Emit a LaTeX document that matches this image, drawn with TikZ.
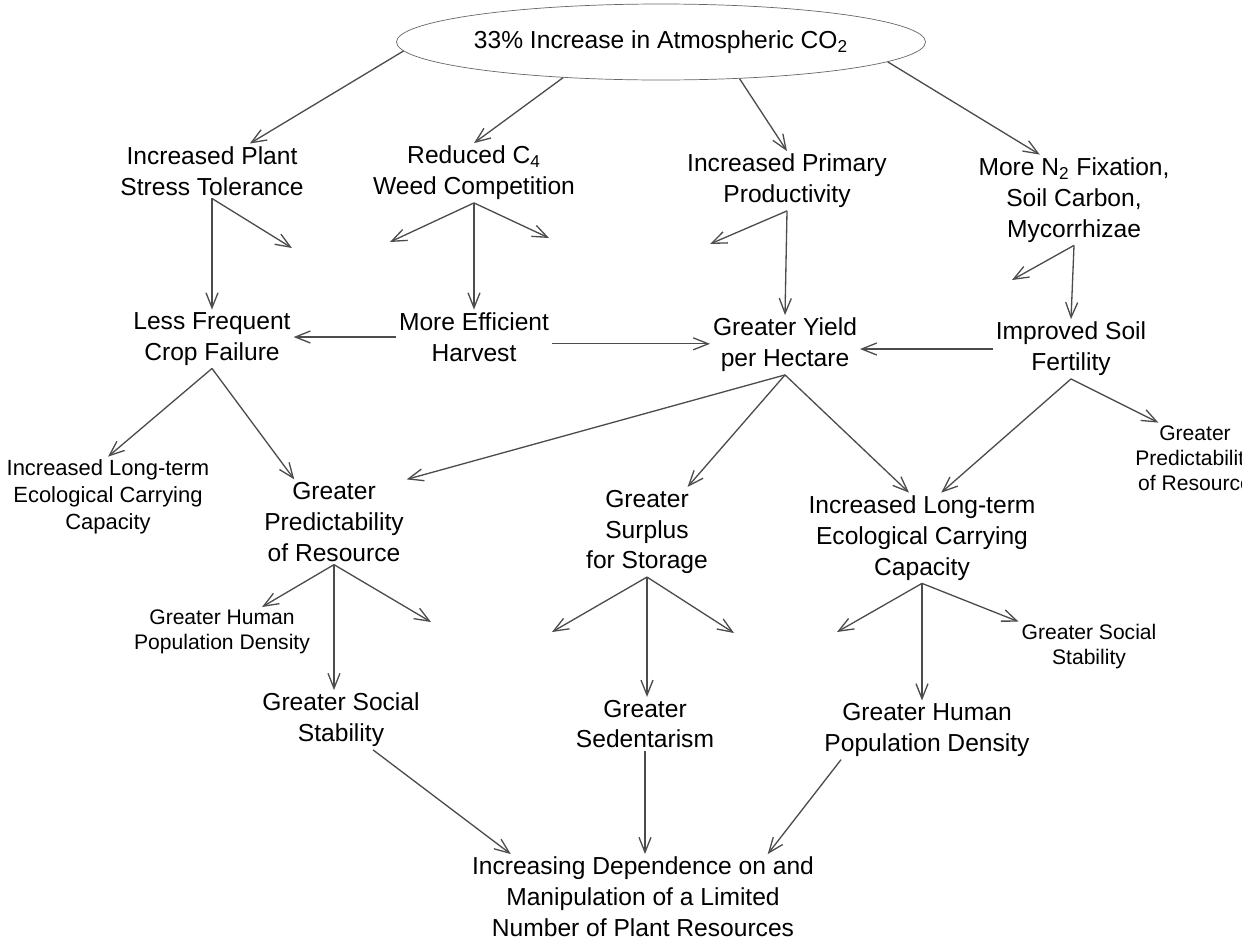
\documentclass[tikz,border=0pt]{standalone}
\usepackage{fontspec}
\setmainfont{Liberation Sans}
\usepackage{xcolor}
\usetikzlibrary{shapes.geometric,arrows.meta}

\begin{document}
\begin{tikzpicture}[x=0.02cm, y=-0.02cm,
    lbl/.style={align=center, inner sep=1.5pt, font=\fontsize{14}{17.6}\selectfont},
    lblsmall/.style={lbl, font=\fontsize{12}{14.2}\selectfont},
    link/.style={draw=black!70, line width=0.75pt, -{Straight Barb[length=3mm, width=2.4mm]}}
    ]
    \useasboundingbox (0,0) rectangle (1250,947);
    \clip (0,0) rectangle (1241,947);
    \node[lbl, ellipse, draw=black!60, minimum width=8.86cm, minimum height=1.52cm, inner sep=0pt] (co2) at (661,42) {33\% Increase in Atmospheric CO\textsubscript{2}};
    \node[lbl] (stress) at (212,171) {Increased Plant\\Stress Tolerance};
    \node[lbl] (weed) at (474,173) {Reduced C\textsubscript{4}\\Weed Competition};
    \node[lbl] (prim) at (787,181) {Increased Primary\\Productivity};
    \node[lbl] (fix) at (1074,200) {More N\textsubscript{2} Fixation,\\Soil Carbon,\\Mycorrhizae};
    \node[lbl] (fail) at (212,339) {Less Frequent\\Crop Failure};
    \node[lbl] (harv) at (474,337) {More Efficient\\Harvest};
    \node[lbl] (yield) at (785,345) {Greater Yield\\per Hectare};
    \node[lbl] (soil) at (1071,349) {Improved Soil\\Fertility};
    \node[lblsmall, font=\fontsize{12.5}{15.4}\selectfont] (carryl) at (108,497) {Increased Long-term\\Ecological Carrying\\Capacity};
    \node[lbl] (predl) at (334,522) {Greater\\Predictability\\of Resource};
    \node[lbl] (surp) at (647,532) {Greater\\Surplus\\for Storage};
    \node[lbl] (carryr) at (922,538) {Increased Long-term\\Ecological Carrying\\Capacity};
    \node[lblsmall] (predr) at (1195,458) {Greater\\Predictability\\of Resource};
    \node[lblsmall] (popl) at (222,632) {Greater Human\\Population Density};
    \node[lbl] (socl) at (341,720) {Greater Social\\Stability};
    \node[lbl] (sed) at (645,724) {Greater\\Sedentarism};
    \node[lblsmall] (socr) at (1089,647) {Greater Social\\Stability};
    \node[lbl] (popr) at (927,730) {Greater Human\\Population Density};
    \node[lbl] (dep) at (643,897) {Increasing Dependence on and\\Manipulation of a Limited\\Number of Plant Resources};
    \coordinate (a1) at (292,248);
    \coordinate (b1) at (390,242);
    \coordinate (b2) at (549,238);
    \coordinate (c1) at (710,244);
    \coordinate (d1) at (1012,280);
    \coordinate (j1) at (431,622);
    \coordinate (k1) at (552,632);
    \coordinate (k2) at (734,633);
    \coordinate (l1) at (837,632);
    \draw[link] (co2.182) -- (stress.36);
    \draw[link] (co2.200) -- (weed.north);
    \draw[link] (co2.335) -- (prim.north);
    \draw[link] (co2.355) -- (fix.127);
    \foreach \t in {fail.north, a1} \draw[link] (stress.south) -- (\t);
    \foreach \t in {b1, b2, harv.north} \draw[link] (weed.south) -- (\t);
    \foreach \t in {c1, yield.north} \draw[link] (prim.south) -- (\t);
    \foreach \t in {d1, soil.north} \draw[link] (fix.south) -- (\t);
    \draw[link] (harv.west) -- (harv.west -| fail.east);
    \draw[link] (harv.-5) -- (harv.-5 -| yield.west);
    \draw[link] (soil.west) -- (soil.west -| yield.east);
    \foreach \t in {carryl.north, predl.133} \draw[link] (fail.south) -- (\t);
    \foreach \t in {predl.north east, surp.48, carryr.106} \draw[link] (yield.south) -- (\t);
    \foreach \t in {carryr.67, predr.136} \draw[link] (soil.south) -- (\t);
    \foreach \t in {popl.32, j1} \draw[link] (predl.south) -- (\t);
    \draw[link] (predl.south) -- (predl.south |- socl.north);
    \foreach \t in {k1, k2} \draw[link] (surp.south) -- (\t);
    \draw[link] (surp.south) -- (surp.south |- sed.north);
    \foreach \t in {l1, socr.north west} \draw[link] (carryr.south) -- (\t);
    \draw[link] (carryr.south) -- (carryr.south |- popr.north);
    \draw[link] (socl.-43) -- (dep.162);
    \draw[link] (sed.south) -- (sed.south |- dep.north);
    \draw[link] (popr.199) -- (dep.19);
\end{tikzpicture}
\end{document}
